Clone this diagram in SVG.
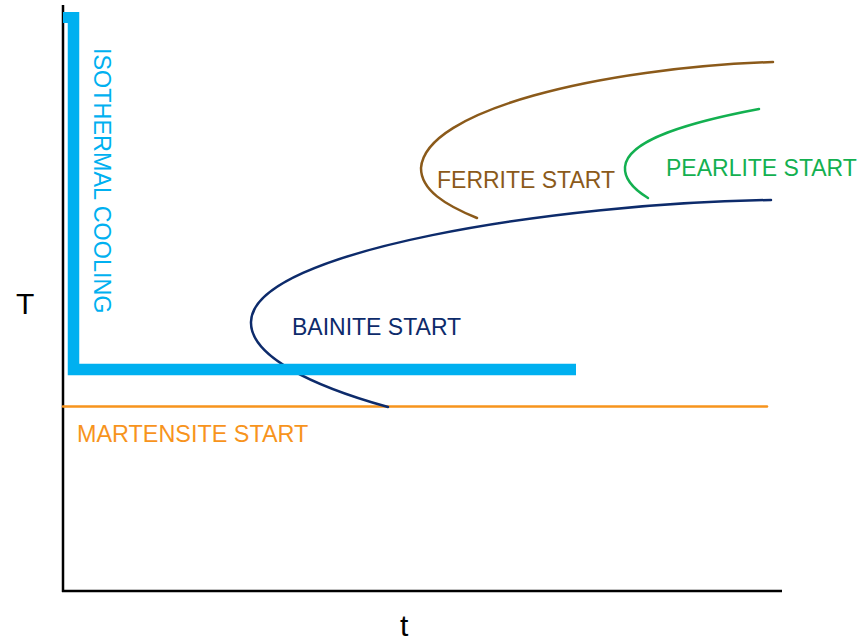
<svg xmlns="http://www.w3.org/2000/svg" width="862" height="643" viewBox="0 0 862 643">
  <style>
    text { font-family: "Liberation Sans", Arial, sans-serif; }
    .lbl { font-size: 23px; }
    .axis { stroke: #000; stroke-width: 2.5; fill: none; }
    .curve { fill: none; stroke-width: 2.5; stroke-linecap: round; }
  </style>
  <rect width="862" height="643" fill="#fff"/>

  <!-- axes -->
  <g id="axes">
    <line class="axis" x1="63" y1="5" x2="63" y2="592"/>
    <line class="axis" x1="62" y1="591" x2="782" y2="591"/>
    <text x="16" y="314" font-size="30">T</text>
    <text x="400" y="636" font-size="30">t</text>
  </g>

  <!-- transformation curves and cooling path -->
  <g id="connectors">
    <line class="curve" x1="63" y1="406.5" x2="767" y2="406.5" stroke="#F7941D" stroke-linecap="butt"/>
    <path class="curve" stroke="#0D2B6B" d="M771,200 C560,203 252,250 251,322 C250,356 312,386 388,407"/>
    <path class="curve" stroke="#8B5A1A" d="M773,62 C600,68 425,110 421,168 C421,190 445,205 477,218"/>
    <path class="curve" stroke="#13B050" d="M759,109 C690,122 627,140 625,167 C624,180 635,190 648,198"/>
    <polyline fill="none" stroke="#00B0F0" stroke-width="11.5" points="73.5,12 73.5,369.5 576,369.5"/>
    <rect x="63" y="12" width="8" height="11" fill="#00B0F0"/>
  </g>

  <g id="isothermal-cooling">
    <text fill="#00B0F0" transform="translate(94,48) rotate(90)" style="font-size:23.4px">ISOTHERMAL COOLING</text>
  </g>
  <g id="ferrite-start">
    <text class="lbl" x="437" y="188" fill="#8B5A1A">FERRITE START</text>
  </g>
  <g id="pearlite-start">
    <text class="lbl" x="666" y="176" fill="#13B050">PEARLITE START</text>
  </g>
  <g id="bainite-start">
    <text class="lbl" x="292" y="335" fill="#0D2B6B">BAINITE START</text>
  </g>
  <g id="martensite-start">
    <text x="77" y="442" fill="#F7941D" style="font-size:23.4px">MARTENSITE START</text>
  </g>
</svg>
